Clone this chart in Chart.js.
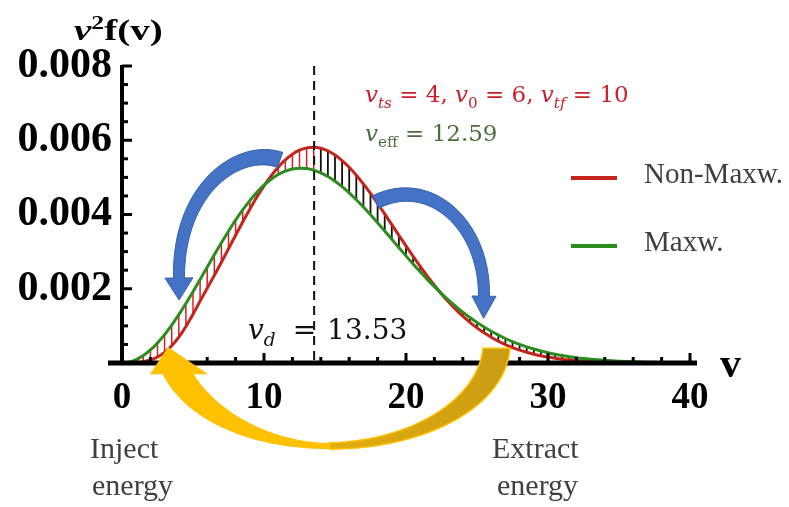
<!DOCTYPE html>
<html>
<head>
<meta charset="utf-8">
<script src="https://cdn.jsdelivr.net/npm/chart.js@4.4.1/dist/chart.umd.min.js"></script>
<style>
  html, body { margin: 0; padding: 0; background: #fff; }
  #wrap { width: 789px; height: 507px; }
</style>
</head>
<body>
<div id="wrap"><canvas id="plot" width="789" height="507"></canvas></div>
<script>
// speed grid (v) and the two speed distributions v^2 f(v)
const speeds = [
  0, 0.5, 1, 1.5, 2, 2.5, 3, 3.5, 4, 4.5, 5, 5.5, 6, 6.5, 7, 7.5, 8, 8.5, 9, 9.5,
  10, 10.5, 11, 11.5, 12, 12.5, 13, 13.5, 14, 14.5, 15, 15.5, 16, 16.5, 17, 17.5, 18, 18.5, 19, 19.5,
  20, 20.5, 21, 21.5, 22, 22.5, 23, 23.5, 24, 24.5, 25, 25.5, 26, 26.5, 27, 27.5, 28, 28.5, 29, 29.5,
  30, 30.5, 31, 31.5, 32, 32.5, 33, 33.5, 34, 34.5, 35, 35.5, 36, 36.5, 37, 37.5, 38, 38.5, 39, 39.5, 40
];
const nonMaxw = [
  0, 0.000002, 0.000012, 0.000036, 0.000082, 0.000163, 0.000287, 0.000464, 0.000697, 0.000985,
  0.001314, 0.001667, 0.002015, 0.002359, 0.002715, 0.003078, 0.003441, 0.003799, 0.004143, 0.004469,
  0.004769, 0.005039, 0.005274, 0.005469, 0.005623, 0.005731, 0.005794, 0.005812, 0.005784, 0.005713,
  0.005602, 0.005453, 0.005271, 0.005059, 0.004823, 0.004567, 0.004296, 0.004015, 0.003728, 0.003439,
  0.003153, 0.002873, 0.002601, 0.002341, 0.002094, 0.001861, 0.001646, 0.001446, 0.001262, 0.001096,
  0.000946, 0.000812, 0.000693, 0.000588, 0.000496, 0.000416, 0.000347, 0.000288, 0.000237, 0.000195,
  0.000159, 0.000129, 0.000104, 0.000083, 0.000066, 0.000053, 0.000042, 0.000033, 0.000026, 0.000020,
  0.000015, 0.000012, 0.000009, 0.000007, 0.000005, 0.000004, 0.000003, 0.000002, 0.000002, 0.000001,
  0.000001
];
const maxw = [
  0, 0.000022, 0.000089, 0.000200, 0.000351, 0.000541, 0.000765, 0.001021, 0.001302, 0.001604,
  0.001922, 0.002250, 0.002582, 0.002913, 0.003237, 0.003550, 0.003847, 0.004122, 0.004373, 0.004596,
  0.004789, 0.004949, 0.005076, 0.005168, 0.005225, 0.005248, 0.005237, 0.005195, 0.005123, 0.005023,
  0.004897, 0.004750, 0.004582, 0.004398, 0.004201, 0.003993, 0.003777, 0.003555, 0.003331, 0.003107,
  0.002885, 0.002668, 0.002457, 0.002252, 0.002056, 0.001869, 0.001692, 0.001525, 0.001370, 0.001225,
  0.001091, 0.000968, 0.000855, 0.000753, 0.000660, 0.000577, 0.000502, 0.000435, 0.000376, 0.000323,
  0.000277, 0.000237, 0.000201, 0.000171, 0.000144, 0.000121, 0.000102, 0.000085, 0.000071, 0.000059,
  0.000049, 0.000040, 0.000033, 0.000027, 0.000022, 0.000018, 0.000014, 0.000012, 0.000009, 0.000007,
  0.000006
];
const seriesNames = ['Non-Maxw.', 'Maxw.'];
const xTickValues = [0, 10, 20, 30, 40];
const yTickLabels = ['0.002', '0.004', '0.006', '0.008'];
const vDrift = 13.53;

const RED = '#c3251c';
const GREEN = '#2c8c1f';
const SERIF = "'Liberation Serif', 'Times New Roman', serif";
const MATH = "'DejaVu Serif', serif";

// annotation arrows, points given as [v, v^2 f in units of 1e-3]
const blueLeft = [[11.13, 5.47], [8.31, 5.85], [3.95, 4.75], [4.01, 2.29]];
const blueRight = [[17.89, 4.34], [21.69, 5.06], [25.56, 3.72], [25.49, 1.80]];
const goldOuterR = [[27.32, 0.40], [26.97, -1.27], [20.99, -2.32], [14.65, -2.32]];
const goldInnerR = [[25.42, 0.40], [25.07, -1.00], [20.28, -2.10], [14.65, -2.15]];
const goldOuterL = [[14.65, -2.32], [9.01, -2.32], [4.44, -1.54], [2.82, -0.27]];
const goldInnerL = [[14.65, -2.15], [10.42, -2.15], [6.55, -1.27], [5.0, -0.27]];
const goldHead = [[1.97, -0.30], [3.24, 0.43], [6.06, -0.30]];

function toPx(chart, p) {
  return [chart.scales.x.getPixelForValue(p[0]), chart.scales.y.getPixelForValue(p[1] / 1000)];
}

function bez(p, t) {
  const u = 1 - t;
  return [0, 1].map(k => u * u * u * p[0][k] + 3 * u * u * t * p[1][k] + 3 * u * t * t * p[2][k] + t * t * t * p[3][k]);
}

function bezD(p, t) {
  const u = 1 - t;
  return [0, 1].map(k => 3 * u * u * (p[1][k] - p[0][k]) + 6 * u * t * (p[2][k] - p[1][k]) + 3 * t * t * (p[3][k] - p[2][k]));
}

function sample(p, n) {
  const out = [];
  for (let i = 0; i <= n; i++) out.push(bez(p, i / n));
  return out;
}

// tapered curved arrow along a cubic path
function curvedArrow(ctx, p, w0, w1, headHalf, headLen) {
  const n = 40, left = [], right = [];
  for (let i = 0; i <= n; i++) {
    const t = i / n;
    const c = bez(p, t), d = bezD(p, t);
    const len = Math.hypot(d[0], d[1]);
    const nx = -d[1] / len, ny = d[0] / len;
    const w = (w0 + (w1 - w0) * t) / 2;
    left.push([c[0] + nx * w, c[1] + ny * w]);
    right.push([c[0] - nx * w, c[1] - ny * w]);
  }
  const d = bezD(p, 1);
  const len = Math.hypot(d[0], d[1]);
  const tx = d[0] / len, ty = d[1] / len;
  const end = p[3];
  ctx.beginPath();
  left.forEach((q, i) => i ? ctx.lineTo(q[0], q[1]) : ctx.moveTo(q[0], q[1]));
  ctx.lineTo(end[0] - ty * headHalf, end[1] + tx * headHalf);
  ctx.lineTo(end[0] + tx * headLen, end[1] + ty * headLen);
  ctx.lineTo(end[0] + ty * headHalf, end[1] - tx * headHalf);
  for (let i = n; i >= 0; i--) ctx.lineTo(right[i][0], right[i][1]);
  ctx.closePath();
  ctx.fillStyle = '#4472c4';
  ctx.fill();
  ctx.strokeStyle = '#3561ad';
  ctx.lineWidth = 1;
  ctx.stroke();
}

function band(ctx, outer, inner) {
  const a = sample(outer, 30), b = sample(inner, 30).reverse();
  ctx.beginPath();
  a.concat(b).forEach((q, i) => i ? ctx.lineTo(q[0], q[1]) : ctx.moveTo(q[0], q[1]));
  ctx.closePath();
}

// text made of runs: {t, it, sub}
function mathText(ctx, x, y, runs, size, color, family) {
  ctx.fillStyle = color;
  ctx.textAlign = 'left';
  ctx.textBaseline = 'alphabetic';
  for (const r of runs) {
    if (r.gap) x += r.gap;
    const s = r.sub || r.sup ? size * 0.66 : size;
    ctx.font = (r.it ? 'italic ' : '') + (r.bold ? 'bold ' : '') + s + 'px ' + (family || MATH);
    ctx.fillText(r.t, x, y + (r.sub ? size * 0.25 : 0) - (r.sup ? size * 0.38 : 0));
    x += ctx.measureText(r.t).width;
  }
  return x;
}

const decorations = {
  id: 'decorations',
  beforeDatasetsDraw(chart) {
    const { ctx, scales: { x, y }, chartArea } = chart;
    ctx.save();
    ctx.beginPath();
    ctx.rect(chartArea.left, chartArea.top, chartArea.width, chartArea.height);
    ctx.clip();
    // vertical hatching between the two curves
    speeds.forEach((v, i) => {
      const a = nonMaxw[i], b = maxw[i];
      if (Math.abs(a - b) < 0.00003) return;
      const px = x.getPixelForValue(v);
      ctx.beginPath();
      ctx.moveTo(px, y.getPixelForValue(a));
      ctx.lineTo(px, y.getPixelForValue(b));
      ctx.strokeStyle = v < vDrift ? '#d0202a' : '#111';
      ctx.lineWidth = v < vDrift ? 1.5 : 1.8;
      ctx.stroke();
    });
    ctx.restore();
  },
  afterDatasetsDraw(chart) {
    const { ctx, scales: { x, y } } = chart;
    const x0 = x.getPixelForValue(0), y0 = y.getPixelForValue(0);
    ctx.save();

    // drift speed marker
    const xd = x.getPixelForValue(vDrift);
    ctx.setLineDash([9, 6]);
    ctx.strokeStyle = '#111';
    ctx.lineWidth = 2;
    ctx.beginPath();
    ctx.moveTo(xd, y.top);
    ctx.lineTo(xd, y0);
    ctx.stroke();
    ctx.setLineDash([]);

    // axes with inward ticks
    ctx.strokeStyle = '#000';
    ctx.lineWidth = 5;
    ctx.beginPath();
    ctx.moveTo(x0 - 14, y0);
    ctx.lineTo(x.right + 7, y0);
    ctx.stroke();
    ctx.lineWidth = 4;
    ctx.beginPath();
    ctx.moveTo(x0, y.top - 1);
    ctx.lineTo(x0, y0);
    ctx.stroke();
    ctx.lineWidth = 3;
    for (let v = 2; v <= 40; v += 2) {
      const px = x.getPixelForValue(v);
      ctx.beginPath();
      ctx.moveTo(px, y0);
      ctx.lineTo(px, y0 - (v % 10 === 0 ? 10 : 6));
      ctx.stroke();
    }
    for (let k = 1; k <= 16; k++) {
      const py = y.getPixelForValue(k * 0.0005);
      ctx.beginPath();
      ctx.moveTo(x0, py);
      ctx.lineTo(x0 + (k % 4 === 0 ? 10 : 6), py);
      ctx.stroke();
    }

    // blue arrows
    curvedArrow(ctx, blueLeft.map(p => toPx(chart, p)), 16, 11, 14, 22);
    curvedArrow(ctx, blueRight.map(p => toPx(chart, p)), 14, 11, 12, 22);

    // golden arrow below the axis
    const oR = goldOuterR.map(p => toPx(chart, p)), iR = goldInnerR.map(p => toPx(chart, p));
    const oL = goldOuterL.map(p => toPx(chart, p)), iL = goldInnerL.map(p => toPx(chart, p));
    const grad = ctx.createLinearGradient(oR[3][0], 0, oR[0][0], 0);
    grad.addColorStop(0, '#e3ad10');
    grad.addColorStop(1, '#c99c12');
    band(ctx, oR, iR);
    ctx.fillStyle = grad;
    ctx.fill();
    ctx.strokeStyle = '#ffc000';
    ctx.lineWidth = 1.5;
    ctx.stroke();
    band(ctx, oL, iL);
    ctx.fillStyle = '#ffc000';
    ctx.fill();
    const h = goldHead.map(p => toPx(chart, p));
    ctx.beginPath();
    ctx.moveTo(h[0][0], h[0][1]);
    ctx.lineTo(h[1][0], h[1][1]);
    ctx.lineTo(h[2][0], h[2][1]);
    ctx.closePath();
    ctx.fill();

    // axis titles
    ctx.save();
    ctx.translate(74, 40);
    ctx.scale(1.3, 1);
    mathText(ctx, 0, 0, [
      { t: 'v', it: true, bold: true },
      { t: '2', bold: true, sup: true },
      { t: 'f(v)', bold: true }
    ], 30, '#000', SERIF);
    ctx.restore();
    ctx.font = 'bold 42px ' + SERIF;
    ctx.fillStyle = '#000';
    ctx.textBaseline = 'alphabetic';
    ctx.fillText('v', 720, 377);

    // parameter labels
    mathText(ctx, 365, 102, [
      { t: 'v', it: true }, { t: 'ts', it: true, sub: true },
      { t: ' = 4, ' },
      { t: 'v', it: true }, { t: '0', sub: true },
      { t: ' = 6, ' },
      { t: 'v', it: true }, { t: 'tf', it: true, sub: true },
      { t: ' = 10' }
    ], 23, '#c9202f');
    mathText(ctx, 365, 141, [
      { t: 'v', it: true }, { t: 'eff', sub: true },
      { t: ' = 12.59' }
    ], 23, '#4c6e3e');
    mathText(ctx, 248, 339, [
      { t: 'v', it: true }, { t: 'd', it: true, sub: true },
      { t: '=', gap: 17 }, { t: '13.53', gap: 11 }
    ], 28, '#111');

    // legend
    const legendRows = [[seriesNames[0], RED, 178], [seriesNames[1], GREEN, 246]];
    legendRows.forEach(([name, color, ly]) => {
      ctx.strokeStyle = color;
      ctx.lineWidth = 4;
      ctx.beginPath();
      ctx.moveTo(571, ly);
      ctx.lineTo(617, ly);
      ctx.stroke();
      ctx.font = '29px ' + SERIF;
      ctx.fillStyle = '#3f3f3f';
      ctx.fillText(name, 644, ly + 5);
    });

    // energy captions
    ctx.font = '30px ' + SERIF;
    ctx.fillStyle = '#404040';
    ctx.fillText('Inject', 90, 458);
    ctx.fillText('energy', 92, 495);
    ctx.fillText('Extract', 492, 458);
    ctx.fillText('energy', 497, 495);

    ctx.restore();
  }
};

const chart = new Chart(document.getElementById('plot'), {
  type: 'line',
  data: {
    datasets: [
      {
        label: seriesNames[0],
        data: speeds.map((v, i) => ({ x: v, y: nonMaxw[i] })),
        borderColor: RED,
        borderWidth: 3,
        pointRadius: 0,
        cubicInterpolationMode: 'monotone',
        order: 1
      },
      {
        label: seriesNames[1],
        data: speeds.map((v, i) => ({ x: v, y: maxw[i] })),
        borderColor: GREEN,
        borderWidth: 3,
        pointRadius: 0,
        cubicInterpolationMode: 'monotone',
        order: 0
      }
    ]
  },
  options: {
    responsive: false,
    animation: false,
    devicePixelRatio: 1,
    layout: { padding: { left: 0, right: 99, top: 66, bottom: 0 } },
    plugins: { legend: { display: false }, tooltip: { enabled: false } },
    scales: {
      x: {
        type: 'linear',
        min: 0,
        max: 40,
        afterFit: s => { s.height = 144; s.paddingLeft = 0; s.paddingRight = 0; },
        afterBuildTicks: s => { s.ticks = xTickValues.map(v => ({ value: v })); },
        grid: { display: false, drawTicks: false },
        border: { display: false },
        ticks: {
          padding: 13,
          maxRotation: 0,
          autoSkip: false,
          color: '#000',
          font: { family: SERIF, weight: 'bold', size: 37 }
        }
      },
      y: {
        min: 0,
        max: 0.008,
        afterFit: s => { s.width = 122; s.paddingTop = 0; s.paddingBottom = 0; },
        afterBuildTicks: s => { s.ticks = yTickLabels.map(t => ({ value: Number(t) })); },
        grid: { display: false, drawTicks: false },
        border: { display: false },
        ticks: {
          padding: 10,
          color: '#000',
          callback: v => yTickLabels.find(t => Number(t) === v) || '',
          font: { family: SERIF, weight: 'bold', size: 42 }
        }
      }
    }
  },
  plugins: [decorations]
});
</script>
</body>
</html>
